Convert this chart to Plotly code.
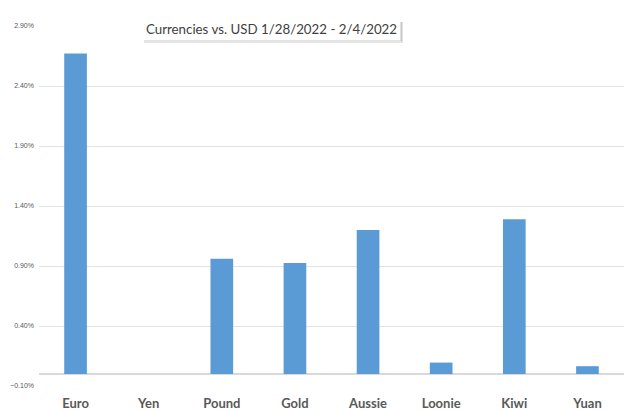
import plotly.graph_objects as go

categories = ["Euro", "Yen", "Pound", "Gold", "Aussie", "Loonie", "Kiwi", "Yuan"]
changes = [0.0267, 0.0, 0.0096, 0.00925, 0.0120, 0.00095, 0.0129, 0.00065]
tick_vals = [-0.001, 0.004, 0.009, 0.014, 0.019, 0.024, 0.029]
title_text = "Currencies vs. USD 1/28/2022 - 2/4/2022"

fig = go.Figure(go.Bar(
    x=categories, y=changes,
    marker=dict(color="#5b9bd5", line=dict(width=0)),
))

fig.update_layout(
    width=624, height=410,
    margin=dict(l=39, r=0, t=26, b=24),
    paper_bgcolor="white", plot_bgcolor="white",
    bargap=0.69,
    showlegend=False,
    xaxis=dict(
        showgrid=False, showline=False, ticks="",
        tickfont=dict(family="Lato", size=13, color="#595959", weight="bold"),
        ticklabelstandoff=8,
    ),
    yaxis=dict(
        range=[-0.001, 0.029], tickvals=tick_vals, tickformat=".2%",
        showgrid=True, gridcolor="#e3e3e3", gridwidth=1,
        zeroline=True, zerolinecolor="#d9d9d9", zerolinewidth=1.5,
        showline=False, ticks="",
        tickfont=dict(family="Liberation Sans", size=7, color="#595959"),
        ticklabelstandoff=4,
    ),
)

# soft drop shadow behind the title box
fig.add_shape(type="rect", xref="paper", yref="paper",
              x0=0.1795, x1=0.6222, y0=0.9528, y1=1.0111,
              fillcolor="#e4e4e4", line=dict(width=0), layer="above")
fig.add_shape(type="rect", xref="paper", yref="paper",
              x0=0.1795, x1=0.6205, y0=0.9583, y1=1.0111,
              fillcolor="#c4c4c4", line=dict(width=0), layer="above")

fig.add_annotation(
    text=title_text, xref="paper", yref="paper", x=0.397, y=1.0, yanchor="middle",
    showarrow=False, yshift=-3,
    font=dict(family="Lato", size=13.3, color="#404040"),
    bgcolor="white", borderpad=3,
)

fig.write_html("out.html", config={"displayModeBar": False},
               post_script="document.body.style.margin='0';")
